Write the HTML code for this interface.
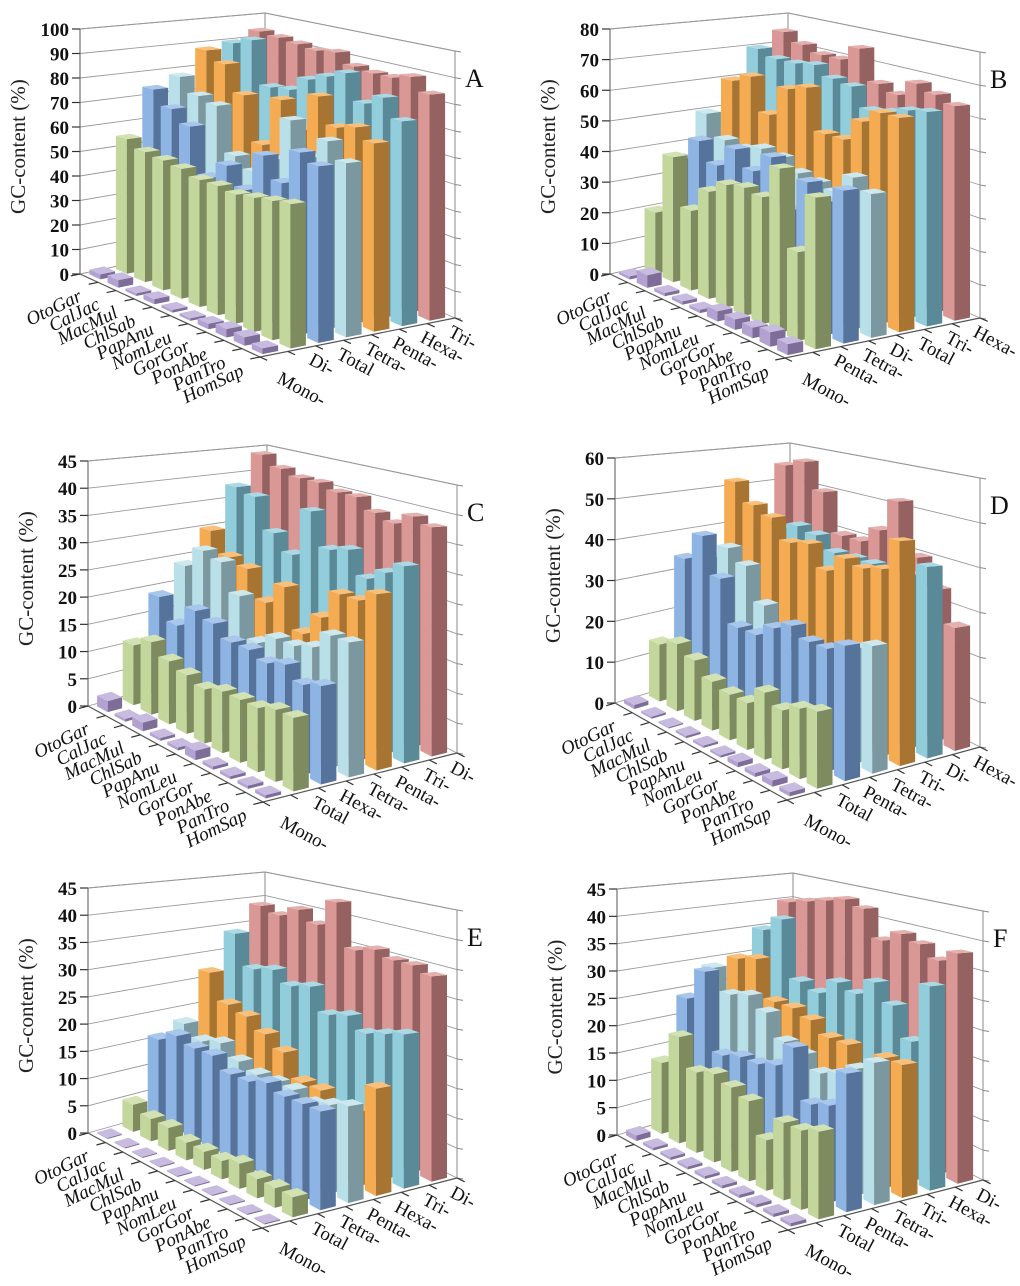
<!DOCTYPE html>
<html><head><meta charset="utf-8"><style>
body{margin:0;background:#fff}
svg{display:block}
text{font-family:"Liberation Serif",serif}
.tick{font-weight:bold}
.cat{font-style:italic}
</style></head><body>
<svg id="chart" width="1020" height="1286" viewBox="0 0 1020 1286" xmlns="http://www.w3.org/2000/svg"></svg>
<script>
const categories = ["OtoGar","CalJac","MacMul","ChlSab","PapAnu","NomLeu","GorGor","PonAbe","PanTro","HomSap"];
const seriesA = ["Mono-","Di-","Total","Tetra-","Penta-","Hexa-","Tri-"];
const seriesB = ["Mono-","Penta-","Tetra-","Di-","Total","Tri-","Hexa-"];
const seriesC = ["Mono-","Total","Hexa-","Tetra-","Penta-","Tri-","Di-"];
const seriesD = ["Mono-","Total","Penta-","Tetra-","Tri-","Di-","Hexa-"];
const seriesE = ["Mono-","Total","Tetra-","Penta-","Hexa-","Tri-","Di-"];
const seriesF = ["Mono-","Total","Penta-","Tetra-","Tri-","Hexa-","Di-"];
const valuesA = [
 [2,3,1,2,1,1,2,3,3,2],
 [55,52,51,50,48,48,47,48,49,50],
 [74,68,63,45,52,45,60,52,65,62],
 [78,72,70,52,48,55,72,60,68,62],
 [88,84,73,55,75,65,80,70,72,68],
 [90,93,75,76,82,85,88,78,82,75],
 [94,93,92,91,92,88,87,87,89,84]];
const valuesB = [
 [1,4,1,1,1,3,3,3,4,3],
 [20,40,25,33,37,38,37,47,25,42],
 [36,44,38,45,40,46,32,42,38,43],
 [50,43,42,44,43,40,39,38,44,41],
 [60,63,52,62,64,51,51,58,62,62],
 [70,68,68,69,66,65,59,60,62,63],
 [75,72,70,70,75,65,63,68,66,64]];
const valuesC = [
 [2,0.5,1.5,0.5,0.5,1.5,0.5,0.5,0.5,0.5],
 [11,13,11,10,9,10,10,10,11,11],
 [19,15,19,18,16,16,15,16,14,15],
 [24,28,27,22,15,17,17,18,21,21],
 [30,26,25,20,24,17,21,26,26,28],
 [38,37,31,28,37,31,32,28,30,32],
 [44,42,41,41,40,40,38,37,39,38]];
const valuesD = [
 [1,0.5,0.3,0.5,0.5,0.5,1,0.8,1.2,0.8],
 [14,16,14,11,10,10,14,12,14,15],
 [34,41,32,22,22,25,27,25,25,27],
 [33,37,34,26,20,18,20,21,24,26],
 [52,47,45,40,41,36,40,39,40,47],
 [40,40,42,41,38,38,38,36,38,41],
 [55,57,50,40,40,44,52,40,34,27]];
const valuesE = [
 [0.2,0.2,0.2,0.2,0.2,0.2,0.2,0.2,0.2,0.2],
 [5,4,4,3,3,3,4,3,3,3],
 [16,18,17,17,15,15,16,15,15,15],
 [18,16,17,15,14,14,14,13,14,15],
 [27,22,21,19,17,13,13,11,12,17],
 [34,28,29,27,28,24,25,23,24,25],
 [39,38,40,38,43,35,36,35,35,34]];
const valuesF = [
 [1,0.5,0.5,0.5,0.5,0.5,0.5,0.5,0.5,0.5],
 [13,19,14,15,14,13,8,12,12,13],
 [24,30,16,17,17,18,22,14,15,21],
 [29,25,26,24,20,19,17,18,20,22],
 [30,31,24,24,23,21,21,17,21,21],
 [35,38,27,26,29,28,31,28,23,33],
 [40,41,42,43,42,37,39,38,36,38]];
const maxA=100, maxB=80, maxC=45, maxD=60, maxE=45, maxF=45;
const stepA=10, stepB=10, stepC=5, stepD=10, stepE=5, stepF=5;

const colors=[["#b3a2d1","#7d6d98","#c8bbe0"],["#c3d69b","#7d8b5f","#d3e2b2"],["#8eb4e3","#56739c","#a9c6ec"],["#b9dfe9","#7b98a1","#cde8ef"],["#f5ab52","#a87432","#f9c07c"],["#92cddc","#5a8a97","#abdae6"],["#d99795","#956261","#e5b1af"]];

const panels=[
 {id:"a",letter:"A",series:seriesA,values:valuesA,max:maxA,step:stepA,L:[80,274],F:[260,357],R:[455,318],bx:265,bty:13,ty:29,rty:51},
 {id:"b",letter:"B",series:seriesB,values:valuesB,max:maxB,step:stepB,L:[610,274],F:[785,358],R:[980,318],bx:788,bty:13,ty:29,rty:52},
 {id:"c",letter:"C",series:seriesC,values:valuesC,max:maxC,step:stepC,L:[88,706],F:[263,802],R:[457,753],bx:267,bty:445,ty:461,rty:485},
 {id:"d",letter:"D",series:seriesD,values:valuesD,max:maxD,step:stepD,L:[615,703],F:[787,800],R:[980,747],bx:790,bty:443,ty:458,rty:478},
 {id:"e",letter:"E",series:seriesE,values:valuesE,max:maxE,step:stepE,L:[88,1133],F:[262,1228],R:[457,1178],bx:265,bty:872,ty:888,rty:910},
 {id:"f",letter:"F",series:seriesF,values:valuesF,max:maxF,step:stepF,L:[617,1135],F:[788,1230],R:[983,1180],bx:793,bty:873,ty:889,rty:911}
];
const NS="http://www.w3.org/2000/svg";
const svg=document.getElementById("chart");
function mk(tag,attrs,parent){const e=document.createElementNS(NS,tag);for(const k in attrs)e.setAttribute(k,attrs[k]);parent.appendChild(e);return e;}

panels.forEach(p=>{
 const g=mk("g",{},svg);
 
 
 const K=[p.bx,p.L[1]-(p.F[1]-p.R[1])];
 const hL=p.L[1]-p.ty, hK=K[1]-p.bty, hR=p.R[1]-p.rty, hF=hL*hR/hK;
 function P(u,v,h){
  const ax=p.L[0]+(p.F[0]-p.L[0])*u, ay=p.L[1]+(p.F[1]-p.L[1])*u;
  const bx=K[0]+(p.R[0]-K[0])*u, by=K[1]+(p.R[1]-K[1])*u;
  const x=ax+(bx-ax)*v, y=ay+(by-ay)*v;
  const s=(hL+(hF-hL)*u)*(1-v)+(hK+(hR-hK)*u)*v;
  return [x,y-s*h/p.max];
 }
 const pts=a=>a.map(q=>q[0].toFixed(1)+","+q[1].toFixed(1)).join(" ");
 const ln="#8a8a8a";
 const wall=mk("polyline",{points:pts([P(0,0,0),P(0,0,p.max),P(0,1,p.max),P(1,1,p.max),P(1,1,0)]),fill:"none",stroke:ln,"stroke-width":1},g);
 
 
 mk("line",{x1:P(0,1,0)[0],y1:P(0,1,0)[1],x2:P(0,1,p.max)[0],y2:P(0,1,p.max)[1],stroke:ln,"stroke-width":1},g);
 for(let t=0;t<=p.max+1e-9;t+=p.step){
  const a=P(0,0,t),b=P(0,1,t),c=P(1,1,t);
  const gl=mk("polyline",{points:pts([a,b,c]),fill:"none",stroke:"#9a9a9a","stroke-width":0.9},g);
  
  
  mk("line",{x1:a[0]-8,y1:a[1],x2:a[0],y2:a[1],stroke:"#333","stroke-width":1.2},g);
  mk("line",{x1:c[0],y1:c[1],x2:c[0]+6,y2:c[1]+1,stroke:ln,"stroke-width":1},g);
  const tl=mk("text",{x:a[0]-11,y:a[1]+7,"text-anchor":"end","font-size":19,"class":"tick",fill:"#111"},g);
  tl.textContent=String(t);
  
  
 }
 mk("line",{x1:p.L[0],y1:p.L[1],x2:p.L[0],y2:p.ty,stroke:"#555","stroke-width":1},g);
 mk("polyline",{points:pts([P(0,0,0),P(1,0,0),P(1,1,0)]),fill:"none",stroke:"#555","stroke-width":1.2},g);
 for(let i=0;i<=10;i++){const a=P(i/10,0,0),b=P(i/10,-0.05,0);mk("line",{x1:a[0],y1:a[1],x2:b[0],y2:b[1],stroke:"#333","stroke-width":1.2},g);}
 for(let j=0;j<=7;j++){const a=P(1,j/7,0),b=P(1.04,j/7,0);mk("line",{x1:a[0],y1:a[1],x2:b[0],y2:b[1],stroke:"#333","stroke-width":1.2},g);}
 const bars=[];
 p.values.forEach((row,j)=>row.forEach((val,i)=>bars.push({i,j,val})));
 bars.sort((a,b)=>((1-(b.i+0.5)/10)+(b.j+0.5)/7)-((1-(a.i+0.5)/10)+(a.j+0.5)/7));
 bars.forEach(b=>{
  const uc=(b.i+0.5)/10, vc=(b.j+0.5)/7;
  const u0=uc-0.03,u1=uc+0.03,v0=vc-0.04,v1=vc+0.04;
  const c=colors[b.j];
  const bg=mk("g",{},g);
  
  
  mk("polygon",{points:pts([P(u0,v0,0),P(u1,v0,0),P(u1,v0,b.val),P(u0,v0,b.val)]),fill:c[0]},bg);
  mk("polygon",{points:pts([P(u1,v0,0),P(u1,v1,0),P(u1,v1,b.val),P(u1,v0,b.val)]),fill:c[1]},bg);
  mk("polygon",{points:pts([P(u0,v0,b.val),P(u1,v0,b.val),P(u1,v1,b.val),P(u0,v1,b.val)]),fill:c[2]},bg);
 });
 categories.forEach((n,i)=>{
  const a=P((i+0.5)/10,0,0);
  const tx=a[0]-6, ty=a[1]+22;
  const t=mk("text",{x:tx,y:ty,"text-anchor":"end","font-size":19,"class":"cat",fill:"#111",transform:`rotate(-26 ${tx} ${ty})`},g);
  t.textContent=n;
  
  
 });
 p.series.forEach((n,j)=>{
  const a=P(1,(j+0.5)/7,0);
  const off=j===0?[2,28]:[6,15];
  const t=mk("text",{x:a[0]+off[0],y:a[1]+off[1],"font-size":19,fill:"#111",transform:`rotate(28 ${a[0]+off[0]} ${a[1]+off[1]})`},g);
  t.textContent=n;
  
  
 });
 const yt=p.L[0]-55, ym=p.L[1]-hL*0.52;
 const title=mk("text",{x:yt,y:ym,"text-anchor":"middle","font-size":21,fill:"#222",transform:`rotate(-90 ${yt} ${ym})`},g);
 title.textContent="GC-content (%)";
 
 
 const lt=mk("text",{x:p.R[0]+10,y:p.rty+36,"font-size":26,fill:"#111"},g);
 lt.textContent=p.letter;
 
 
});
</script>
</body></html>
